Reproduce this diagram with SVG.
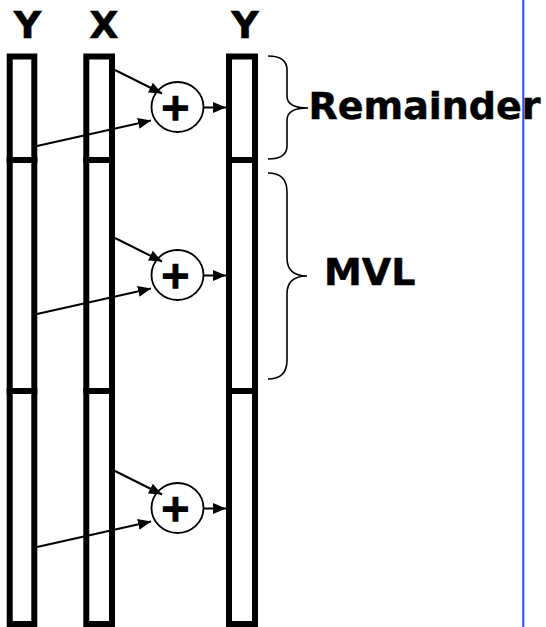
<svg xmlns="http://www.w3.org/2000/svg" width="546" height="627" viewBox="0 0 546 627">
<defs>
<style>
.bar{fill:#fff;stroke:#000;stroke-width:6}
.add{fill:#fff;stroke:#000;stroke-width:1.8}
.lbl{font-family:"DejaVu Sans",Verdana,sans-serif;font-weight:bold;font-size:38px;fill:#000;stroke:#000;stroke-width:0.5}
.plus{font-family:"DejaVu Sans",Verdana,sans-serif;font-weight:bold;font-size:38px;fill:#000;stroke:#000;stroke-width:1.4;text-anchor:middle}
.arr{stroke:#000;stroke-width:2;fill:none;marker-end:url(#ah)}
.brace{stroke:#000;stroke-width:1.6;fill:none}
</style>
<marker id="ah" markerUnits="userSpaceOnUse" markerWidth="13" markerHeight="11" refX="13" refY="5.5" orient="auto">
<path d="M0,0 L13,5.5 L0,11 z" fill="#000"/>
</marker>
</defs>
<rect width="546" height="627" fill="#fff"/>
<line x1="523.3" y1="0" x2="523.3" y2="627" stroke="#2b4cff" stroke-width="2"/>
<g id="labels">
<text class="lbl" x="27.5" y="38" text-anchor="middle">Y</text>
<text class="lbl" x="104" y="38" text-anchor="middle">X</text>
<text class="lbl" x="245" y="38" text-anchor="middle">Y</text>
</g>
<g id="ySrc">
<rect id="ySrc1" class="bar" x="9.7" y="56.5" width="24.6" height="103.5"/>
<rect id="ySrc2" class="bar" x="9.7" y="160" width="24.6" height="231"/>
<rect id="ySrc3" class="bar" x="9.7" y="391" width="24.6" height="233"/>
</g>
<g id="xSrc">
<rect id="x1" class="bar" x="86.3" y="56.5" width="25.7" height="103.5"/>
<rect id="x2" class="bar" x="86.3" y="160" width="25.7" height="231"/>
<rect id="x3" class="bar" x="86.3" y="391" width="25.7" height="233"/>
</g>
<g id="yDst">
<rect id="yDst1" class="bar" x="229" y="56.5" width="26" height="103.5"/>
<rect id="yDst2" class="bar" x="229" y="160" width="26" height="231"/>
<rect id="yDst3" class="bar" x="229" y="391" width="26" height="233"/>
</g>
<g id="add1">
<ellipse class="add" cx="177.5" cy="107" rx="26" ry="25"/>
<text class="plus" x="175.5" y="120">+</text>
</g>
<g id="add2">
<ellipse class="add" cx="177.5" cy="275" rx="26" ry="25"/>
<text class="plus" x="175.5" y="288">+</text>
</g>
<g id="add3">
<ellipse class="add" cx="177.5" cy="508" rx="26" ry="25"/>
<text class="plus" x="175.5" y="521">+</text>
</g>
<g id="connectors">
<line class="arr" x1="115" y1="70" x2="162" y2="93.5"/>
<line class="arr" x1="37" y1="146" x2="151" y2="120.5"/>
<line class="arr" x1="203.5" y1="107.5" x2="226" y2="107.5"/>
<line class="arr" x1="115" y1="238" x2="162" y2="261.5"/>
<line class="arr" x1="37" y1="314" x2="151" y2="288.5"/>
<line class="arr" x1="203.5" y1="275.5" x2="226" y2="275.5"/>
<line class="arr" x1="115" y1="471" x2="162" y2="494.5"/>
<line class="arr" x1="37" y1="547" x2="151" y2="521.5"/>
<line class="arr" x1="203.5" y1="508.5" x2="226" y2="508.5"/>
</g>
<g id="remainder">
<path class="brace" d="M268,56 Q287,56 287,70 L287,96 Q287,108 308,108 Q287,108 287,120 L287,146 Q287,159 268,159"/>
<text class="lbl" x="308.5" y="119">Remainder</text>
</g>
<g id="mvl">
<path class="brace" d="M268,173 Q287,173 287,192 L287,258 Q287,276 307,276 Q287,276 287,294 L287,360 Q287,379 268,379"/>
<text class="lbl" x="324" y="285">MVL</text>
</g>
</svg>
